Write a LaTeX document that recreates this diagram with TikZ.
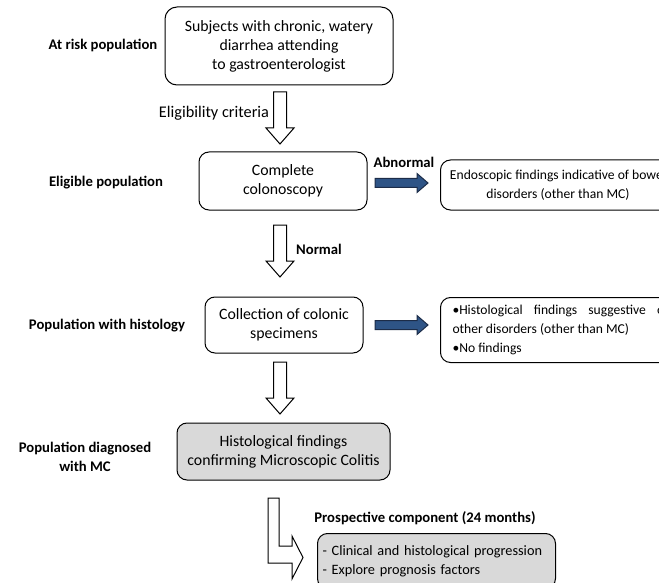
\documentclass[tikz,border=0pt]{standalone}
\usepackage{fontspec}
\setmainfont{Carlito}
\definecolor{arrowblue}{RGB}{46,84,134}
\definecolor{arrowline}{RGB}{28,44,72}
\definecolor{boxgray}{RGB}{217,217,217}
\begin{document}
\begin{tikzpicture}[x=1pt,y=-1pt,
  box/.style={draw=black,line width=1pt,rounded corners=10pt,align=center,inner sep=0pt,
    font=\fontsize{15.8}{19}\selectfont},
  sidebox/.style={box,font=\fontsize{13.6}{19}\selectfont},
  lab/.style={font=\bfseries\fontsize{14.7}{19}\selectfont,align=center,inner sep=0pt},
  plainlab/.style={font=\fontsize{16.3}{19}\selectfont,inner sep=0pt},
  hollow/.style={draw=black,line width=1pt,fill=white,line join=miter},
  bluearrow/.style={draw=arrowline,line width=1pt,fill=arrowblue,line join=miter}]
\useasboundingbox (0,0) rectangle (659,583);
\begin{scope}
\clip (0,0) rectangle (659,583);
% main boxes
\node[box,minimum width=228pt,minimum height=78pt,rounded corners=12pt] (risk) at (279,46)
  {Subjects with chronic, watery\\diarrhea attending\\to gastroenterologist};
\node[box,minimum width=168pt,minimum height=58pt] (colon) at (283,181)
  {Complete\\colonoscopy};
\node[box,minimum width=158pt,minimum height=56pt] (spec) at (284,325)
  {Collection of colonic\\specimens};
\node[box,fill=boxgray,minimum width=213pt,minimum height=57pt] (mc) at (283.5,451.5)
  {Histological findings\\confirming Microscopic Colitis};
% side boxes
\node[sidebox,anchor=west,minimum width=235pt,minimum height=50pt] (endo) at (440,185)
  {Endoscopic findings indicative of bowel\\disorders (other than MC)};
\node[sidebox,anchor=north west,text width=216pt,align=justify,inner xsep=12pt,
  minimum height=65pt] (other) at (440,297)
  {\textbullet Histological findings suggestive of\linebreak other disorders (other than MC)\\\textbullet No findings};
\node[box,fill=boxgray,anchor=north west,text width=228pt,align=left,inner xsep=5pt,
  minimum height=55pt,font=\fontsize{14.3}{19}\selectfont] (prosp) at (317,533)
  {- Clinical and histological progression\\- Explore prognosis factors};
% left labels
\node[lab] (l1) at (103,45) {At risk population};
\node[lab] (l2) at (106,183) {Eligible population};
\node[lab] (l3) at (107,326) {Population with histology};
\node[lab] (l4) at (85,457) {Population diagnosed\\with MC};
% arrow labels
\node[plainlab] (elig) at (214,113) {Eligibility criteria};
\node[lab] (abn) at (404,162) {Abnormal};
\node[lab] (norm) at (319,249) {Normal};
\node[lab] (pc) at (425,518) {Prospective component (24 months)};
% hollow down arrows
\foreach \dy in {0,133,270}{
  \draw[hollow,shift={(0,\dy)}] (273.5,92) -- (286.5,92) -- (286.5,128) -- (294,128)
    -- (280,144) -- (266,128) -- (273.5,128) -- cycle;
}
% blue arrows
\foreach \dy in {0,142}{
  \draw[bluearrow,shift={(0,\dy)}] (375,178.5) -- (417,178.5) -- (417,173.5) -- (428,183)
    -- (417,192.5) -- (417,187.5) -- (375,187.5) -- cycle;
}
% L-shaped arrow
\draw[hollow] (268,498) -- (279,498) -- (279,546) -- (292,546) -- (292,536) -- (303,557.5)
  -- (292,579) -- (292,563) -- (268,563) -- cycle;
\end{scope}
\end{tikzpicture}
\end{document}
